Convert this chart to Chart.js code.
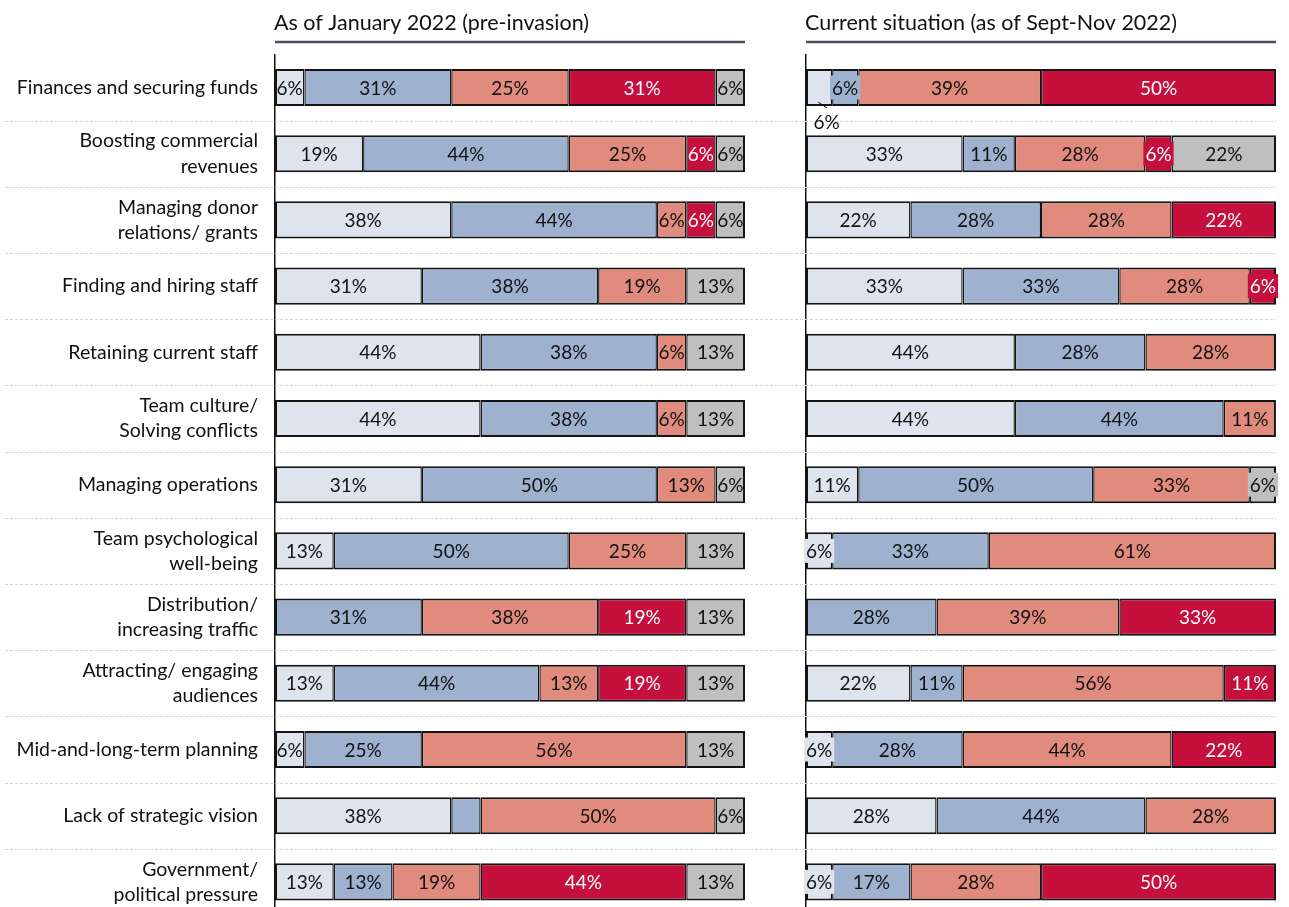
<!DOCTYPE html>
<html><head><meta charset="utf-8">
<script src="https://cdn.jsdelivr.net/npm/chart.js@4.4.1/dist/chart.umd.min.js"></script>
<style>
html,body{margin:0;padding:0;background:#fff;overflow:hidden;width:1289px;height:907px;}
#wl{position:absolute;left:0;top:0;width:790px;height:950px;}
#wr{position:absolute;left:790px;top:0;width:499px;height:950px;}
</style></head><body>
<div id="wl"><canvas id="cl"></canvas></div>
<div id="wr"><canvas id="cr"></canvas></div>
<script>
// ---------- DATA ----------
const categories = [
  "Finances and securing funds",
  ["Boosting commercial", "revenues"],
  ["Managing donor", "relations/ grants"],
  "Finding and hiring staff",
  "Retaining current staff",
  ["Team culture/", "Solving conflicts"],
  "Managing operations",
  ["Team psychological", "well-being"],
  ["Distribution/", "increasing traffic"],
  ["Attracting/ engaging", "audiences"],
  "Mid-and-long-term planning",
  "Lack of strategic vision",
  ["Government/", "political pressure"]
];
const panelTitles = ["As of January 2022 (pre-invasion)", "Current situation (as of Sept-Nov 2022)"];
const seriesNames = ["Level 1", "Level 2", "Level 3", "Level 4", "Other"];

// As of January 2022 (pre-invasion), % of respondents
const janLight   = [6.25, 18.75, 37.5, 31.25, 43.75, 43.75, 31.25, 12.5, 0, 12.5, 6.25, 37.5, 12.5];
const janBlue    = [31.25, 43.75, 43.75, 37.5, 37.5, 37.5, 50, 50, 31.25, 43.75, 25, 6.25, 12.5];
const janSalmon  = [25, 25, 6.25, 18.75, 6.25, 6.25, 12.5, 25, 37.5, 12.5, 56.25, 50, 18.75];
const janCrimson = [31.25, 6.25, 6.25, 0, 0, 0, 0, 0, 18.75, 18.75, 0, 0, 43.75];
const janGray    = [6.25, 6.25, 6.25, 12.5, 12.5, 12.5, 6.25, 12.5, 12.5, 12.5, 12.5, 6.25, 12.5];

// Current situation (Sept-Nov 2022), % of respondents
const nowLight   = [5.56, 33.33, 22.22, 33.33, 44.44, 44.44, 11.11, 5.56, 0, 22.22, 5.56, 27.78, 5.56];
const nowBlue    = [5.56, 11.11, 27.78, 33.33, 27.78, 44.44, 50, 33.33, 27.78, 11.11, 27.78, 44.44, 16.67];
const nowSalmon  = [38.89, 27.78, 27.78, 27.78, 27.78, 11.11, 33.33, 61.11, 38.89, 55.56, 44.44, 27.78, 27.78];
const nowCrimson = [50, 5.56, 22.22, 5.56, 0, 0, 0, 0, 33.33, 11.11, 22.22, 0, 50];
const nowGray    = [0, 22.22, 0, 0, 0, 0, 5.56, 0, 0, 0, 0, 0, 0];

// label exceptions: [rowIndex, seriesIndex]
const janHiddenLabels = [[11, 1]];
const nowCalloutLabels = [[0, 0]];

// ---------- STYLE ----------
const colors = ["#dde4ee", "#9eb2d0", "#e08b7e", "#c50f3d", "#bfbfbf"];
const labelColors = ["#111", "#111", "#111", "#fff", "#111"];
const FONT = "Lato";

function buildDatasets(seriesList) {
  return seriesList.map((vals, si) => ({
    label: seriesNames[si],
    data: vals.map(v => v === 0 ? null : v),
    backgroundColor: colors[si],
    borderColor: "#141414",
    borderSkipped: false,
    borderWidth: (ctx) => {
      const r = ctx.dataIndex;
      let first = -1, last = -1;
      seriesList.forEach((s, k) => { if (s[r] > 0) { if (first < 0) first = k; last = k; } });
      return { top: 2, bottom: 2, left: si === first ? 2 : 1.4, right: si === last ? 2 : 1.4 };
    }
  }));
}

const separatorPlugin = {
  id: "separators",
  beforeDatasetsDraw(chart, args, opts) {
    const y = chart.scales.y, ctx = chart.ctx;
    ctx.save();
    ctx.strokeStyle = "#d4d4d4";
    ctx.lineWidth = 1;
    ctx.setLineDash([3, 2]);
    for (let i = 1; i < categories.length; i++) {
      const py = Math.round((y.getPixelForValue(i - 1) + y.getPixelForValue(i)) / 2) + 0.5;
      ctx.beginPath();
      ctx.moveTo(opts.x0, py);
      ctx.lineTo(opts.x1 === "right" ? chart.chartArea.right : opts.x1, py);
      ctx.stroke();
    }
    ctx.restore();
  }
};

const titlePlugin = {
  id: "panelTitle",
  afterDraw(chart, args, opts) {
    const ctx = chart.ctx, a = chart.chartArea;
    ctx.save();
    ctx.font = `21.5px ${FONT}`;
    ctx.fillStyle = "#111";
    ctx.textBaseline = "alphabetic";
    ctx.textAlign = "left";
    ctx.fillText(opts.text, a.left - 1, 30);
    ctx.strokeStyle = "#4d4d5f";
    ctx.lineWidth = 2.5;
    ctx.beginPath();
    ctx.moveTo(a.left, 42);
    ctx.lineTo(a.right, 42);
    ctx.stroke();
    ctx.restore();
  }
};

const segLabelPlugin = {
  id: "segLabels",
  afterDatasetsDraw(chart, args, opts) {
    const ctx = chart.ctx;
    ctx.save();
    ctx.font = `19px ${FONT}`;
    ctx.textBaseline = "middle";
    ctx.textAlign = "center";
    chart.data.datasets.forEach((ds, di) => {
      const meta = chart.getDatasetMeta(di);
      meta.data.forEach((el, i) => {
        const v = ds.data[i];
        if (!v) return;
        if ((opts.hidden || []).some(h => h[0] === i && h[1] === di)) return;
        const p = el.getProps(["x", "base", "y"], true);
        const txt = Math.round(v) + "%";
        const w = ctx.measureText(txt).width;
        const cx = (p.x + p.base) / 2, cy = p.y;
        const isCallout = (opts.callouts || []).some(h => h[0] === i && h[1] === di);
        if (isCallout) {
          ctx.strokeStyle = "#111";
          ctx.lineWidth = 1;
          ctx.beginPath();
          ctx.moveTo(cx - 1, cy + 14.5);
          ctx.lineTo(cx + 8, cy + 20.5);
          ctx.stroke();
          ctx.fillStyle = "#111";
          ctx.fillText(txt, cx + 7.5, cy + 35);
          return;
        }
        if (w + 2 > Math.abs(p.x - p.base)) {
          ctx.fillStyle = ds.backgroundColor;
          ctx.fillRect(cx - w / 2 - 2, cy - 12, w + 4, 24);
        }
        ctx.fillStyle = labelColors[di];
        ctx.fillText(txt, cx, cy + 1);
      });
    });
    ctx.restore();
  }
};

function makeOptions(isLeft, title) {
  return {
    indexAxis: "y",
    responsive: true,
    maintainAspectRatio: false,
    animation: false,
    layout: { padding: { top: 54.4, bottom: 35, left: 0, right: isLeft ? 45 : 13 } },
    datasets: { bar: { barPercentage: 0.56, categoryPercentage: 1 } },
    scales: {
      x: { stacked: true, min: 0, max: 100, display: false },
      y: {
        stacked: true,
        grid: { display: false },
        border: { display: true, color: "#111", width: 1.5 },
        ticks: {
          display: isLeft,
          padding: 9,
          color: "#111",
          font: { family: FONT, size: 19.5, lineHeight: 1.3 }
        },
        afterFit: (s) => { s.width = isLeft ? 275 : 16; }
      }
    },
    plugins: {
      legend: { display: false },
      tooltip: { enabled: false },
      title: { display: false },
      separators: { x0: isLeft ? 5 : 0, x1: isLeft ? 790 : "right" },
      panelTitle: { text: title },
      segLabels: isLeft ? { hidden: janHiddenLabels, callouts: [] } : { hidden: [], callouts: nowCalloutLabels }
    }
  };
}

const plugins = [separatorPlugin, segLabelPlugin, titlePlugin];

new Chart(document.getElementById("cl"), {
  type: "bar",
  data: { labels: categories, datasets: buildDatasets([janLight, janBlue, janSalmon, janCrimson, janGray]) },
  options: makeOptions(true, panelTitles[0]),
  plugins
});
new Chart(document.getElementById("cr"), {
  type: "bar",
  data: { labels: categories, datasets: buildDatasets([nowLight, nowBlue, nowSalmon, nowCrimson, nowGray]) },
  options: makeOptions(false, panelTitles[1]),
  plugins
});
</script>
</body></html>
